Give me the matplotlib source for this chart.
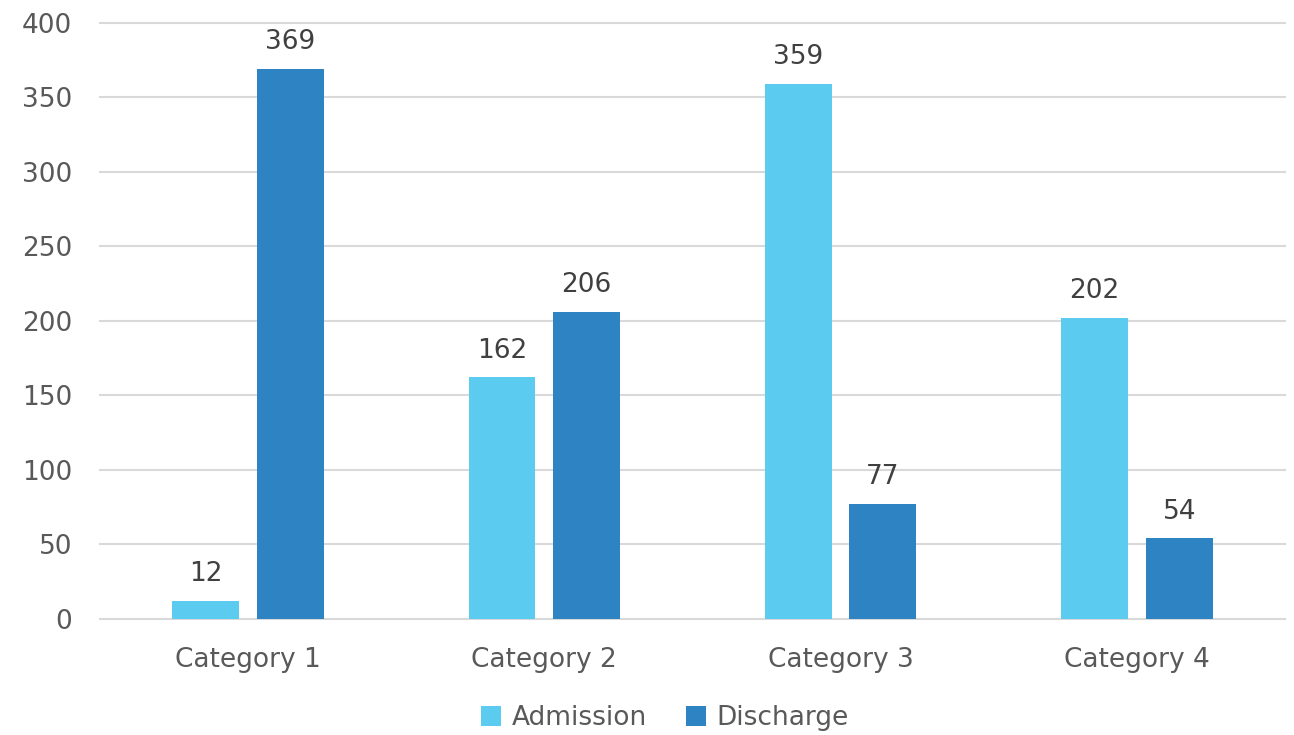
import numpy as np
import matplotlib
matplotlib.use("Agg")
import matplotlib.pyplot as plt

categories = ["Category 1", "Category 2", "Category 3", "Category 4"]
admission = [12, 162, 359, 202]
discharge = [369, 206, 77, 54]
series_names = ["Admission", "Discharge"]

plt.rcParams['font.family'] = ['DejaVu Sans']
text_color = '#595959'

fig = plt.figure(figsize=(12.94, 7.35), dpi=100)
ax = fig.add_axes([0.0773, 0.158, 0.9157, 0.811])

x = np.arange(len(categories))
width = 0.226
offset = 0.143
b1 = ax.bar(x - offset, admission, width, color='#5BCBEF', label=series_names[0], zorder=3)
b2 = ax.bar(x + offset, discharge, width, color='#2E83C3', label=series_names[1], zorder=3)

for bars in (b1, b2):
	for rect in bars:
		h = rect.get_height()
		ax.annotate(str(int(h)), (rect.get_x() + rect.get_width() / 2, h),
			xytext=(0, 10), textcoords='offset points', ha='center', va='bottom',
			fontsize=19, color='#404040')

ax.set_xlim(-0.5, 3.5)
ax.set_ylim(0, 400)
ax.set_yticks(np.arange(0, 401, 50))
ax.set_xticks(x)
ax.set_xticklabels(categories)
ax.tick_params(axis='both', length=0, labelsize=19, labelcolor=text_color)
ax.tick_params(axis='y', pad=20)
ax.tick_params(axis='x', pad=20)
ax.grid(axis='y', color='#D9D9D9', linewidth=1.5, zorder=0)
for g in ax.yaxis.get_gridlines():
	g.set_clip_on(False)
for s in ax.spines.values():
	s.set_visible(False)

fig.legend(handles=[b1, b2], labels=series_names, loc='lower center', bbox_to_anchor=(0.514, -0.027),
	ncol=2, frameon=False, fontsize=19, labelcolor=text_color, handlelength=0.75, handleheight=0.75,
	handletextpad=0.4, columnspacing=1.5)

fig.savefig('out.png', dpi=100)
